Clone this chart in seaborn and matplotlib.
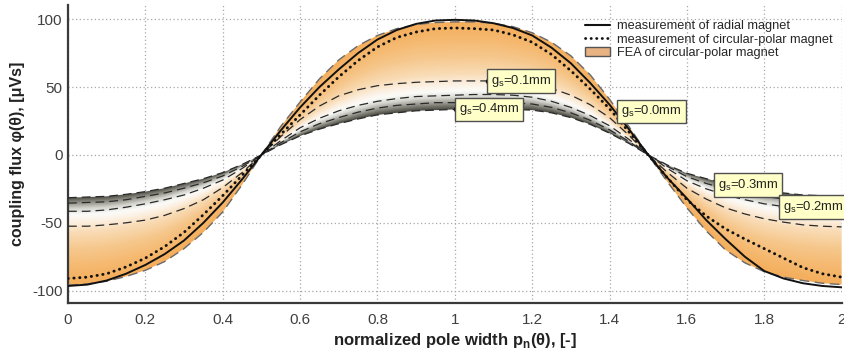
import numpy as np
import matplotlib
matplotlib.use('Agg')
import matplotlib.pyplot as plt
import seaborn as sns
from matplotlib.colors import LinearSegmentedColormap
from matplotlib.lines import Line2D
from matplotlib.patches import Patch, Polygon

# normalized pole width (x) and measured / simulated coupling flux (uVs)
pole_width = [0.0, 0.05, 0.1, 0.15, 0.2, 0.25, 0.3, 0.35, 0.4, 0.45, 0.5,
              0.55, 0.6, 0.65, 0.7, 0.75, 0.8, 0.85, 0.9, 0.95, 1.0,
              1.05, 1.1, 1.15, 1.2, 1.25, 1.3, 1.35, 1.4, 1.45, 1.5,
              1.55, 1.6, 1.65, 1.7, 1.75, 1.8, 1.85, 1.9, 1.95, 2.0]

radial_meas = [-96.5, -95.5, -92.5, -87.5, -81, -73, -63, -50, -35, -18, 0,
               18, 35, 50, 63, 75, 85, 92, 96.5, 99, 99.5,
               99, 97, 93.5, 88, 79, 67.5, 53, 37, 19, 0,
               -17, -32, -48, -62, -75, -85.5, -91, -94.5, -96.5, -97.5]

circular_meas = [-91, -90, -87.5, -82.5, -76, -67.5, -57, -44, -30, -15, 0,
                 15, 29.5, 44, 57.5, 69.5, 79.5, 86.5, 90.5, 93, 93.5,
                 93, 92, 88.5, 83, 74, 62, 48.5, 34, 17, 0,
                 -17, -33, -45, -54.5, -62, -69, -76, -83, -87.5, -90]

fea_gs00 = [-96, -95, -93, -89.5, -85, -78.5, -69, -57, -42, -22, 0,
            21, 39, 56, 70, 80.5, 88, 93, 96, 97.5, 98,
            98, 97, 94.5, 90, 83, 73, 59, 41, 21, 0,
            -20, -39, -56, -70, -79.5, -86, -90, -92.5, -94.5, -95.5]

fea_gs01 = [-52.5, -52.5, -51.5, -50, -48, -44.5, -39.5, -33, -24, -13, 0,
            13.5, 26, 36, 43.5, 48, 51, 52.5, 53.5, 54, 54.5,
            54.5, 54.5, 54, 52.5, 49, 44, 37, 27.5, 14.5, 0,
            -13, -24.5, -32.5, -39, -43.5, -47, -49.5, -51.5, -52.5, -53]

fea_gs02 = [-41.5, -41.5, -40.5, -38.5, -36, -33, -29.5, -24.5, -18.5, -10, 0,
            10.5, 20, 27, 32.5, 36.5, 39.5, 41.5, 43, 43.5, 44,
            44.5, 44.5, 44, 42.5, 39.5, 35, 29, 21.5, 11.5, 0,
            -10, -19, -25, -29.5, -33, -36, -38, -39.5, -40.5, -41]

fea_gs03 = [-35.5, -35, -34.5, -33, -30.5, -28, -24.5, -20.5, -15.5, -8.5, 0,
            9, 17, 23, 27.5, 31.5, 34.5, 36.5, 37.5, 38.5, 38.5,
            39, 39, 38.5, 37.5, 35, 31, 25.5, 18.5, 10, 0,
            -8.5, -16, -21, -25, -28, -30.5, -32.5, -33.5, -34.5, -35]

fea_gs04 = [-31.5, -31, -30.5, -29, -27, -24.5, -21, -17.5, -13, -7, 0,
            7.5, 14, 19, 23, 26.5, 29.5, 31, 32.5, 33, 33.5,
            34, 34, 33.5, 33, 31, 27.5, 22.5, 16, 8.5, 0,
            -7.5, -13.5, -17.5, -21, -24, -26.5, -28, -29.5, -30, -30.5]

x_ticks = [0, 0.2, 0.4, 0.6, 0.8, 1.0, 1.2, 1.4, 1.6, 1.8, 2.0]
x_tick_labels = ['0', '0.2', '0.4', '0.6', '0.8', '1', '1.2', '1.4', '1.6', '1.8', '2']
y_ticks = [-100, -50, 0, 50, 100]

gap_labels = ['0.1', '0.4', '0.0', '0.3', '0.2']
gap_label_x = [1.087, 1.004, 1.424, 1.674, 1.842]
gap_label_y = [54.5, 33.5, 32.0, -22.0, -38.6]

sns.set_theme(style='white')
plt.rcParams['font.family'] = ['Liberation Sans', 'DejaVu Sans']
plt.rcParams['mathtext.fontset'] = 'custom'
plt.rcParams['mathtext.rm'] = 'Liberation Sans'
plt.rcParams['axes.unicode_minus'] = False

fig, ax = plt.subplots(figsize=(8.45, 3.49), dpi=100)
fig.subplots_adjust(left=0.0805, right=0.996, bottom=0.132, top=0.986)

ax.set_xlim(0, 2)
ax.set_ylim(-109, 110.5)

# gradient band between gs=0.0 and gs=0.4 (orange -> white -> grey)
cmap = LinearSegmentedColormap.from_list(
    'fea', [(0.0, '#4e4e46'), (0.06, '#8f8f86'), (0.13, '#d6d6d0'),
            (0.2, '#fbfbf9'), (0.27, '#fcf2e6'), (0.4, '#f9dcb6'),
            (0.6, '#f6c78c'), (0.8, '#f5b970'), (1.0, '#f4ad5a')])
xs = np.linspace(0, 2, 900)
ys = np.linspace(-110, 111, 700)
lo = np.interp(xs, pole_width, fea_gs04)
hi = np.interp(xs, pole_width, fea_gs00)
den = hi - lo
den[np.abs(den) < 1e-6] = 1e-6
XX, YY = np.meshgrid(xs, ys)
t = np.clip((YY - lo[None, :]) / den[None, :], 0, 1)
im = ax.imshow(cmap(t), extent=(0, 2, -110, 111), origin='lower',
               aspect='auto', interpolation='bilinear', zorder=1)
verts = np.vstack([np.column_stack([pole_width, fea_gs00]),
                   np.column_stack([pole_width[::-1], fea_gs04[::-1]])])
band = Polygon(verts, closed=True, fc='none', ec='none', transform=ax.transData)
ax.add_patch(band)
im.set_clip_path(band)

# FEA curves (dashed)
sns.lineplot(x=pole_width, y=fea_gs00, ax=ax, color='#6a6a6a', lw=1.0,
             linestyle=(0, (7, 4)), estimator=None, sort=False, zorder=3)
for curve in [fea_gs01, fea_gs02, fea_gs03, fea_gs04]:
    sns.lineplot(x=pole_width, y=curve, ax=ax, color='#2a2a2a', lw=0.9,
                 linestyle=(0, (7, 4)), estimator=None, sort=False, zorder=3)

# measurements
sns.lineplot(x=pole_width, y=radial_meas, ax=ax, color='#111111', lw=1.4,
             estimator=None, sort=False, zorder=4)
sns.lineplot(x=pole_width, y=circular_meas, ax=ax, color='#111111', lw=2.1,
             linestyle=(0, (0.1, 1.9)), dash_capstyle='round',
             estimator=None, sort=False, zorder=5)

# gap labels
for lab, lx, ly in zip(gap_labels, gap_label_x, gap_label_y):
    ax.plot(lx, ly, 'o', ms=3, color='#111111', zorder=6)
    ax.text(lx + 0.006, ly, 'g$_\\mathregular{s}$=' + lab + 'mm', fontsize=9.4,
            ha='left', va='center', color='#222222', zorder=7,
            bbox=dict(boxstyle='square,pad=0.3', fc='#ffffc8', ec='#505050', lw=1.0))

# axes styling
ax.set_xticks(x_ticks)
ax.set_xticklabels(x_tick_labels)
ax.set_yticks(y_ticks)
ax.grid(True, linestyle=(0, (1, 2)), color='#a8a8a8', lw=0.9)
ax.set_axisbelow(True)
for side in ['top', 'right']:
    ax.spines[side].set_visible(False)
for side in ['left', 'bottom']:
    ax.spines[side].set_color('#3a3a3a')
    ax.spines[side].set_linewidth(1.6)
ax.tick_params(direction='in', length=4, width=1.2, color='#3a3a3a',
               labelsize=11, labelcolor='#404040')
ax.tick_params(axis='x', pad=7)
ax.tick_params(axis='y', pad=4)
ax.set_xlabel('normalized pole width p$_\\mathregular{n}$(θ), [-]',
              fontsize=12, fontweight='bold', color='#222222', labelpad=3)
ax.set_ylabel('coupling flux φ(θ), [μVs]', fontsize=11.5, fontweight='bold',
              color='#222222', labelpad=5)

handles = [Line2D([], [], color='#111111', lw=1.5),
           Line2D([], [], color='#111111', lw=2.0, linestyle=(0, (0.1, 1.9)),
                  dash_capstyle='round'),
           Patch(fc='#e8b283', ec='#555555', lw=1.0)]
ax.legend(handles, ['measurement of radial magnet',
                    'measurement of circular-polar magnet',
                    'FEA of circular-polar magnet'],
          loc='upper left', bbox_to_anchor=(0.658, 0.975), frameon=False,
          fontsize=9.2, handlelength=2.0, handletextpad=0.55,
          labelspacing=0.12, borderaxespad=0.2)

fig.savefig('out.png', dpi=100)
